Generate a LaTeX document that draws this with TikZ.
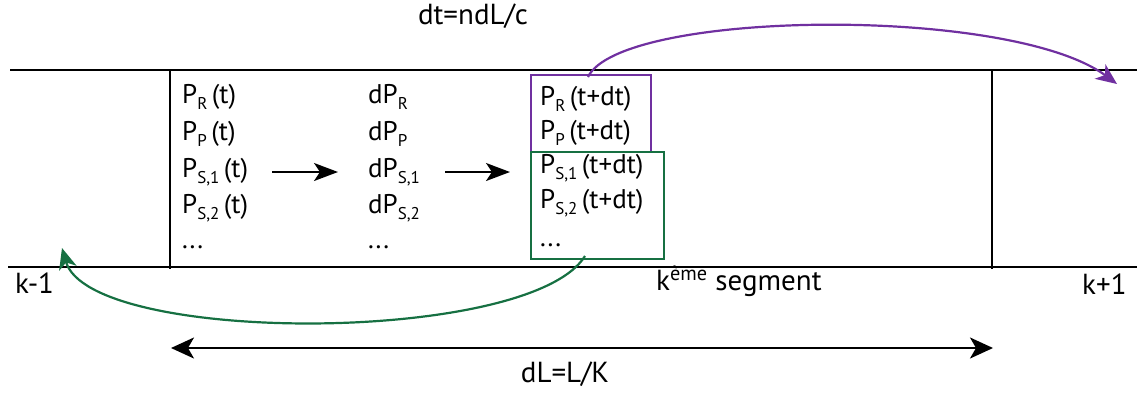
\documentclass[tikz,border=0pt]{standalone}
\usepackage{fontspec}
\setmainfont{PT Sans}
\usetikzlibrary{arrows.meta}
\definecolor{vio}{RGB}{112,48,160}
\definecolor{grn}{RGB}{22,112,66}
\newcommand{\sbs}[1]{\raisebox{-6pt}{\fontsize{17}{17}\selectfont #1}}
\begin{document}
\begin{tikzpicture}[x=1pt,y=-1pt,
  every node/.style={inner sep=0pt,font=\fontsize{27}{32}\selectfont},
  lbl/.style={font=\fontsize{29}{34}\selectfont},
  txt/.style={anchor=base west},
  seg/.style={line width=2pt},
  arr/.style={line width=2pt,-{Stealth[length=24pt,width=18pt,inset=6pt]}},
  darr/.style={line width=2pt,{Stealth[length=23pt,width=21pt,inset=6pt]}-{Stealth[length=23pt,width=21pt,inset=6pt]}},
  vbox/.style={draw=vio,line width=1.8pt,minimum width=120pt,minimum height=77pt},
  gbox/.style={draw=grn,line width=1.8pt,minimum width=133pt,minimum height=107pt},
  varc/.style={draw=vio,line width=2.2pt,-{Stealth[length=21pt,width=18pt,inset=6pt]}},
  garc/.style={draw=grn,line width=2.2pt,-{Stealth[length=21pt,width=18pt,inset=6pt]}}]
\useasboundingbox (0,0) rectangle (1137,392);
% segment lines
\draw[seg] (10,70) -- (1137,70);
\draw[seg] (8,267) -- (1137,267);
\draw[seg] (170,70) -- (170,269);
\draw[seg] (992,70) -- (992,269);
% labels
\node[lbl] (dt) at (473,16) {dt=ndL/c};
\node[lbl] (dl) at (565,374) {dL=L/K};
\node[lbl,txt] (km) at (15,293) {k-1};
\node[lbl,txt] (kp) at (1082,294) {k+1};
\node[lbl,txt] (ks) at (656,290) {k\textsuperscript{ème} segment};
% column 1
\node[txt] (a1) at (182,103) {P\sbs{R}\,(t)};
\node[txt] (a2) at (182,140) {P\sbs{P}\,(t)};
\node[txt] (a3) at (182,177) {P\sbs{S,1}\,(t)};
\node[txt] (a4) at (182,213) {P\sbs{S,2}\,(t)};
\node[txt] (a5) at (182,248) {...};
% column 2
\node[txt] (b1) at (368,103) {dP\sbs{R}};
\node[txt] (b2) at (368,140) {dP\sbs{P}};
\node[txt] (b3) at (368,177) {dP\sbs{S,1}};
\node[txt] (b4) at (368,213) {dP\sbs{S,2}};
\node[txt] (b5) at (368,248) {...};
% column 3
\node[txt] (c1) at (540,105) {P\sbs{R}\,(t+dt)};
\node[txt] (c2) at (540,139) {P\sbs{P}\,(t+dt)};
\node[txt] (c3) at (540,173) {P\sbs{S,1}\,(t+dt)};
\node[txt] (c4) at (540,208) {P\sbs{S,2}\,(t+dt)};
\node[txt] (c5) at (540,246) {...};
% arrows between columns
\coordinate (a3e) at (272,172);
\coordinate (b3w) at (338,172);
\coordinate (b3e) at (445,172);
\coordinate (c3w) at (510,172);
\draw[arr] (a3e) -- (b3w);
\draw[arr] (b3e) -- (c3w);
% boxes
\node[vbox] (pb) at (591,113.5) {};
\node[gbox] (gb) at (597.5,205.5) {};
% arcs
\coordinate (vend) at (1117,84);
\coordinate (gend) at (62,248);
\coordinate (vstart) at (588,77);
\coordinate (gstart) at (585,256);
\draw[varc] (vstart) .. controls (620,10) and (1010,5) .. (vend);
\draw[garc] (gstart) .. controls (530,345) and (90,345) .. (gend);
% dL arrow
\coordinate (dl1) at (171,348);
\coordinate (dl2) at (993,348);
\draw[darr] (dl1) -- (dl2);
\end{tikzpicture}
\end{document}
